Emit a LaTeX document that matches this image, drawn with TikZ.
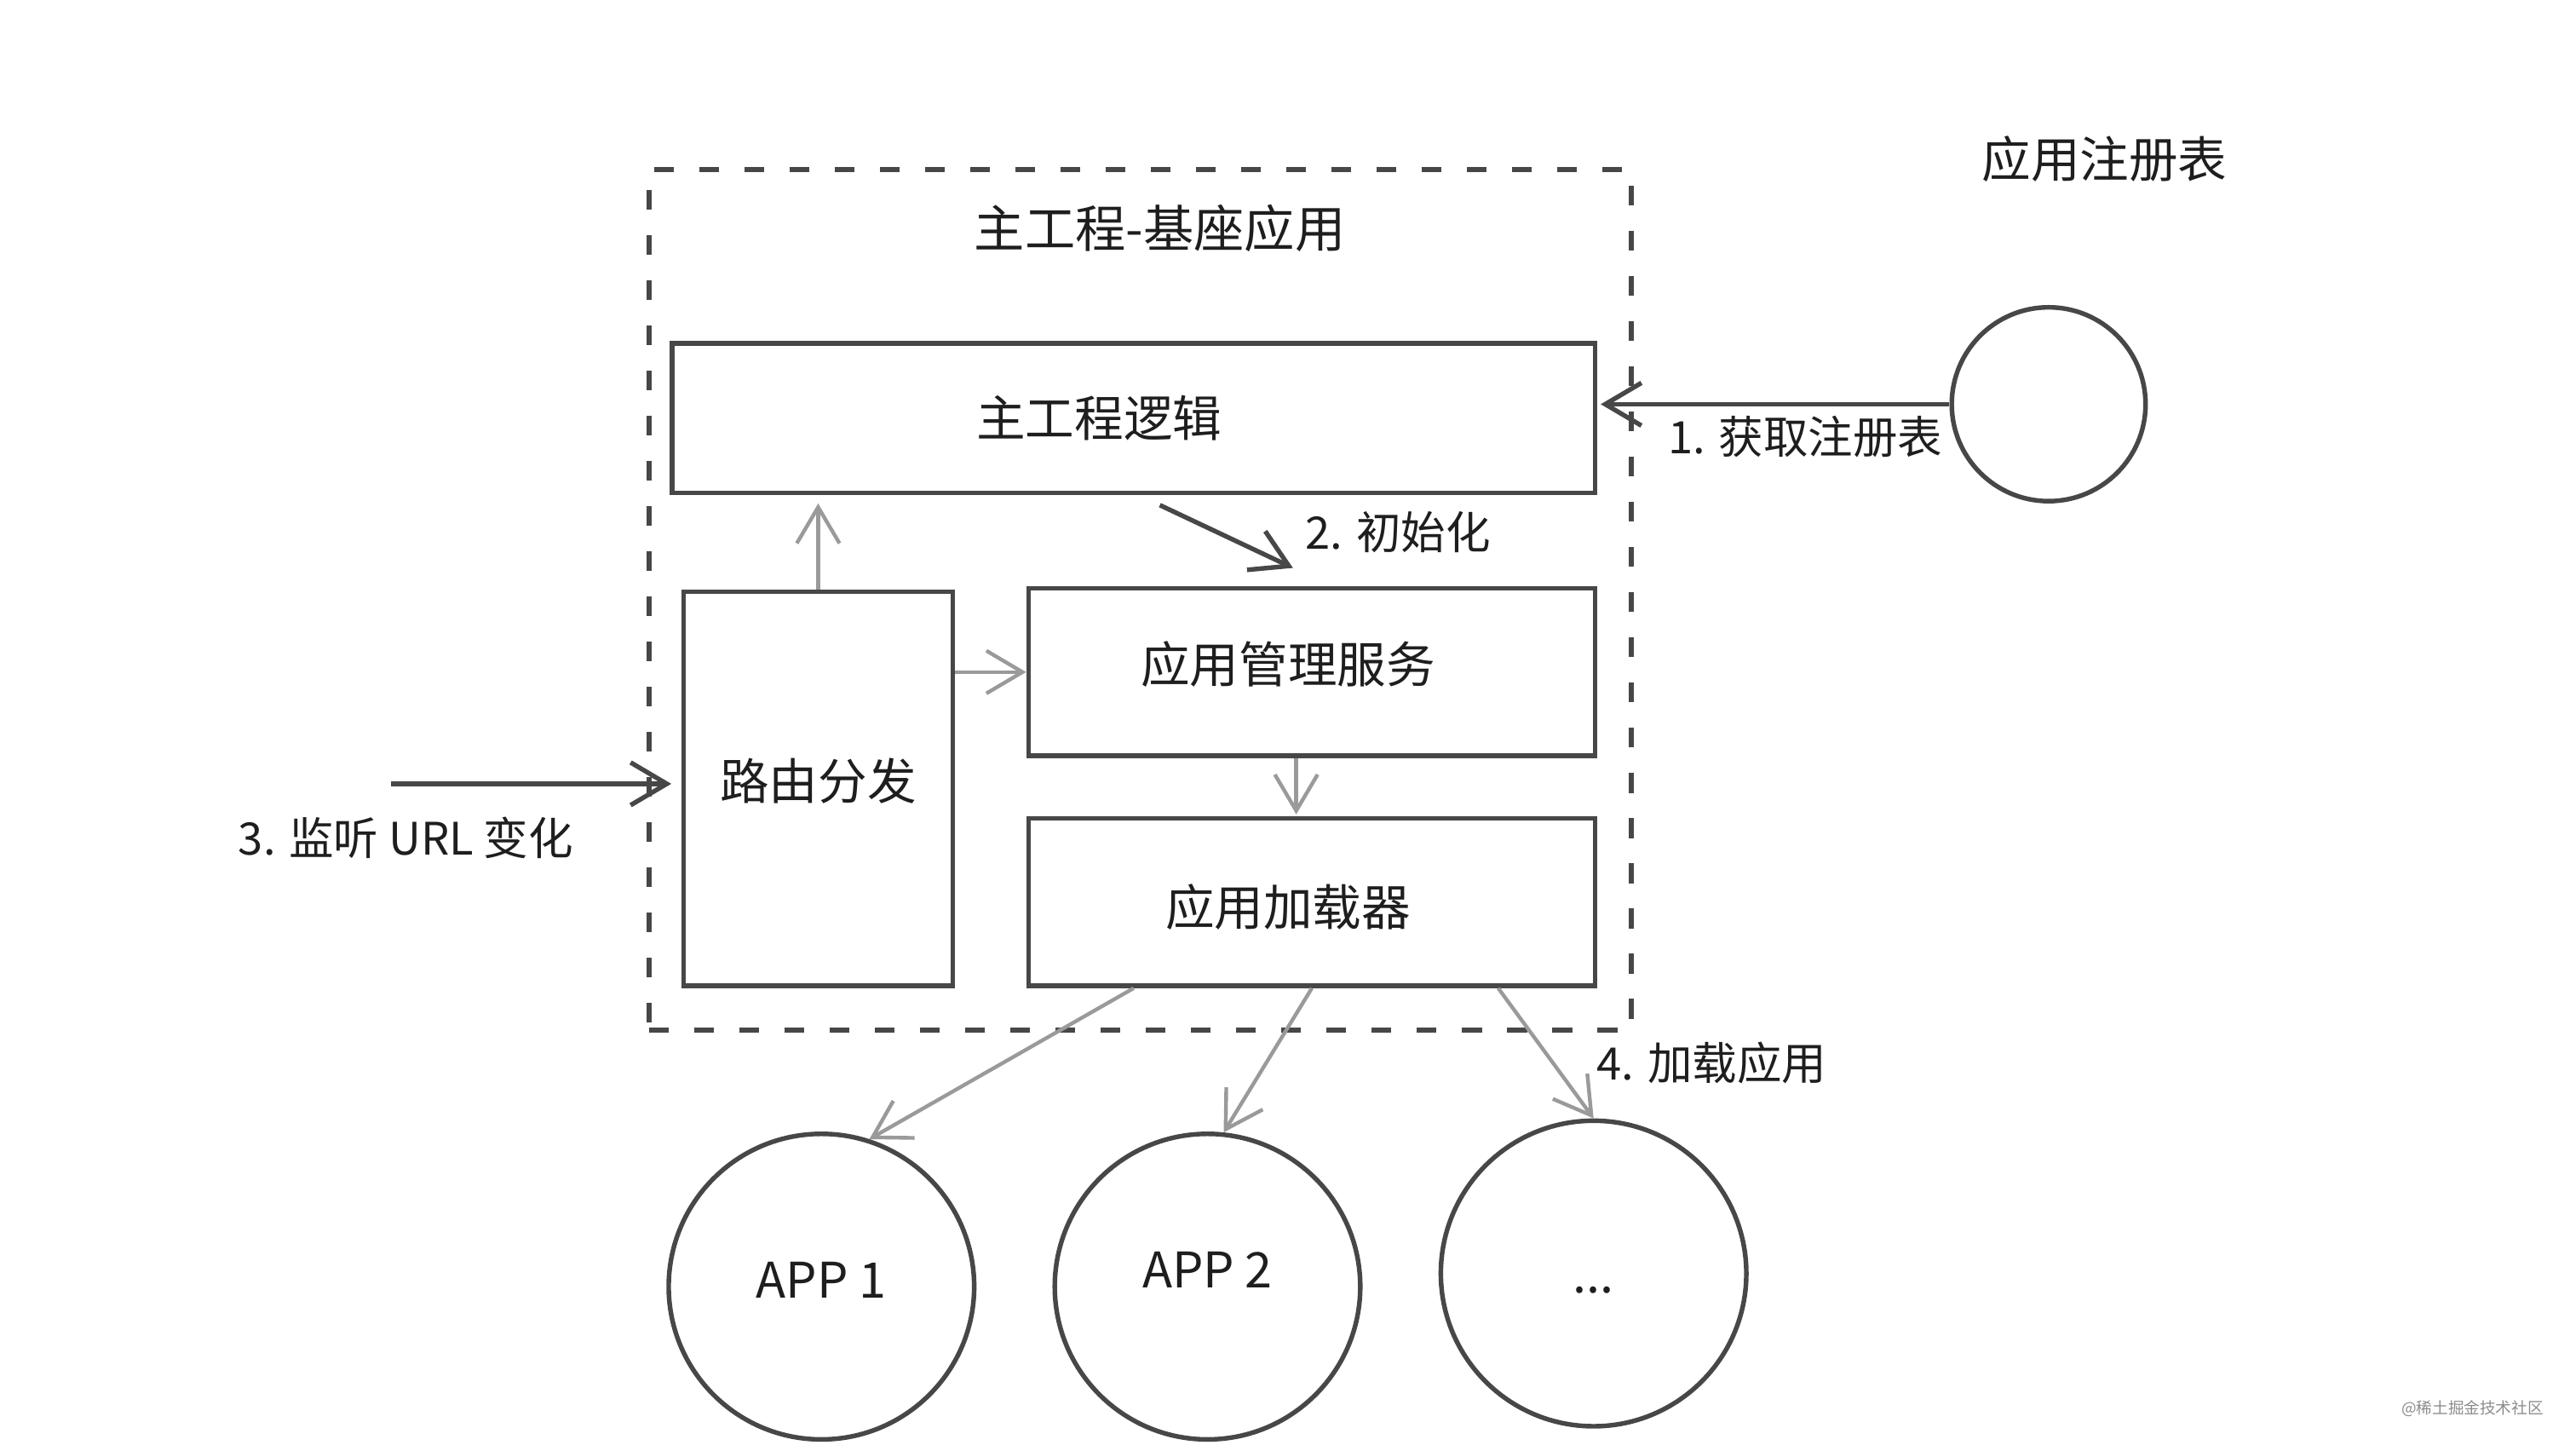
\documentclass[tikz,border=0pt]{standalone}
\usepackage{fontspec}
\setmainfont{Noto Sans CJK SC}
\usetikzlibrary{arrows.meta}

\definecolor{linedark}{HTML}{474747}
\definecolor{linegray}{HTML}{9A9A9A}
\definecolor{inkdark}{HTML}{1E1E1E}

\begin{document}
\begin{tikzpicture}[x=0.02cm, y=-0.02cm,
    box/.style={draw=linedark, line width=1.6pt, inner sep=0pt},
    ball/.style={draw=linedark, line width=1.6pt, circle, inner sep=0pt},
    frame/.style={draw=linedark, line width=1.8pt, dash pattern=on 0.24cm off 0.31cm, inner sep=0pt},
    boxtext/.style={text=inkdark, font=\fontsize{17}{20}\selectfont},
    tag/.style={text=inkdark, font=\fontsize{15.5}{18}\selectfont},
    darrow/.style={draw=linedark, line width=1.6pt, -{Straight Barb[length=0.44cm, width=0.52cm]}},
    garrow/.style={draw=linegray, line width=1.3pt, -{Straight Barb[length=0.44cm, width=0.52cm]}}]
   \useasboundingbox (0,0) rectangle (1568,883);

   % base application frame
   \node[frame, minimum width=11.96cm, minimum height=10.48cm] (base) at (694,365) {};
   \node[boxtext, font=\fontsize{17.5}{20}\selectfont] (basetitle) at (706,139) {主工程-基座应用};
   \node[boxtext] (regtitle) at (1281,97) {应用注册表};

   \node[box, minimum width=11.24cm, minimum height=1.82cm,
         label={[boxtext, xshift=-0.42cm]center:主工程逻辑}] (main) at (690,254.5) {};
   \node[box, minimum width=3.28cm, minimum height=4.8cm,
         label={[boxtext, yshift=0.1cm]center:路由分发}] (router) at (498,480) {};
   \node[box, minimum width=6.9cm, minimum height=2.04cm,
         label={[boxtext, xshift=-0.29cm, yshift=0.1cm]center:应用管理服务}] (mgr) at (798.5,409) {};
   \node[box, minimum width=6.9cm, minimum height=2.04cm,
         label={[boxtext, xshift=-0.29cm, yshift=-0.06cm]center:应用加载器}] (loader) at (798.5,549) {};

   \node[ball, minimum size=2.36cm] (registry) at (1247,246) {};
   \node[ball, minimum size=3.72cm,
         label={[boxtext, yshift=0.08cm]center:APP 1}] (app1) at (500,783) {};
   \node[ball, minimum size=3.72cm,
         label={[boxtext, yshift=0.2cm]center:APP 2}] (app2) at (735,783) {};
   \node[ball, minimum size=3.72cm,
         label={[boxtext, yshift=-0.2cm]center:...}] (app3) at (970,775) {};

   \coordinate (urlsrc) at (238,477);

   \draw[darrow] (registry.west) -- ([xshift=0.04cm]registry.west -| main.east);
   \draw[darrow] ([xshift=0.32cm, yshift=-0.12cm]main.south) -- ([xshift=-0.23cm, yshift=0.22cm]mgr.north);
   \draw[darrow] (urlsrc) -- ([xshift=-0.12cm]urlsrc -| router.west);
   \draw[garrow, shorten >=0.1cm] (router.north) -- (router.north |- main.south);
   \draw[garrow] (mgr.west -| router.east) -- (mgr.west);
   \draw[garrow] ([xshift=-0.19cm]mgr.south) -- ([xshift=-0.19cm, yshift=0.02cm]loader.north);
   \draw[garrow] ([xshift=-2.17cm]loader.south) -- (app1.72);
   \draw[garrow] (loader.south) -- (app2.84);
   \draw[garrow] ([xshift=2.27cm]loader.south) -- (app3.north);

   \node[tag] (fetchlbl) at (1099,266) {1. 获取注册表};
   \node[tag] (initlbl) at (851,324) {2. 初始化};
   \node[tag] (urllbl) at (247,510) {3. 监听 URL 变化};
   \node[tag] (loadlbl) at (1042,647) {4. 加载应用};

   \node[text=black!45, font=\fontsize{5.5}{6}\selectfont] (mark) at (1505,857) {@稀土掘金技术社区};
\end{tikzpicture}
\end{document}
